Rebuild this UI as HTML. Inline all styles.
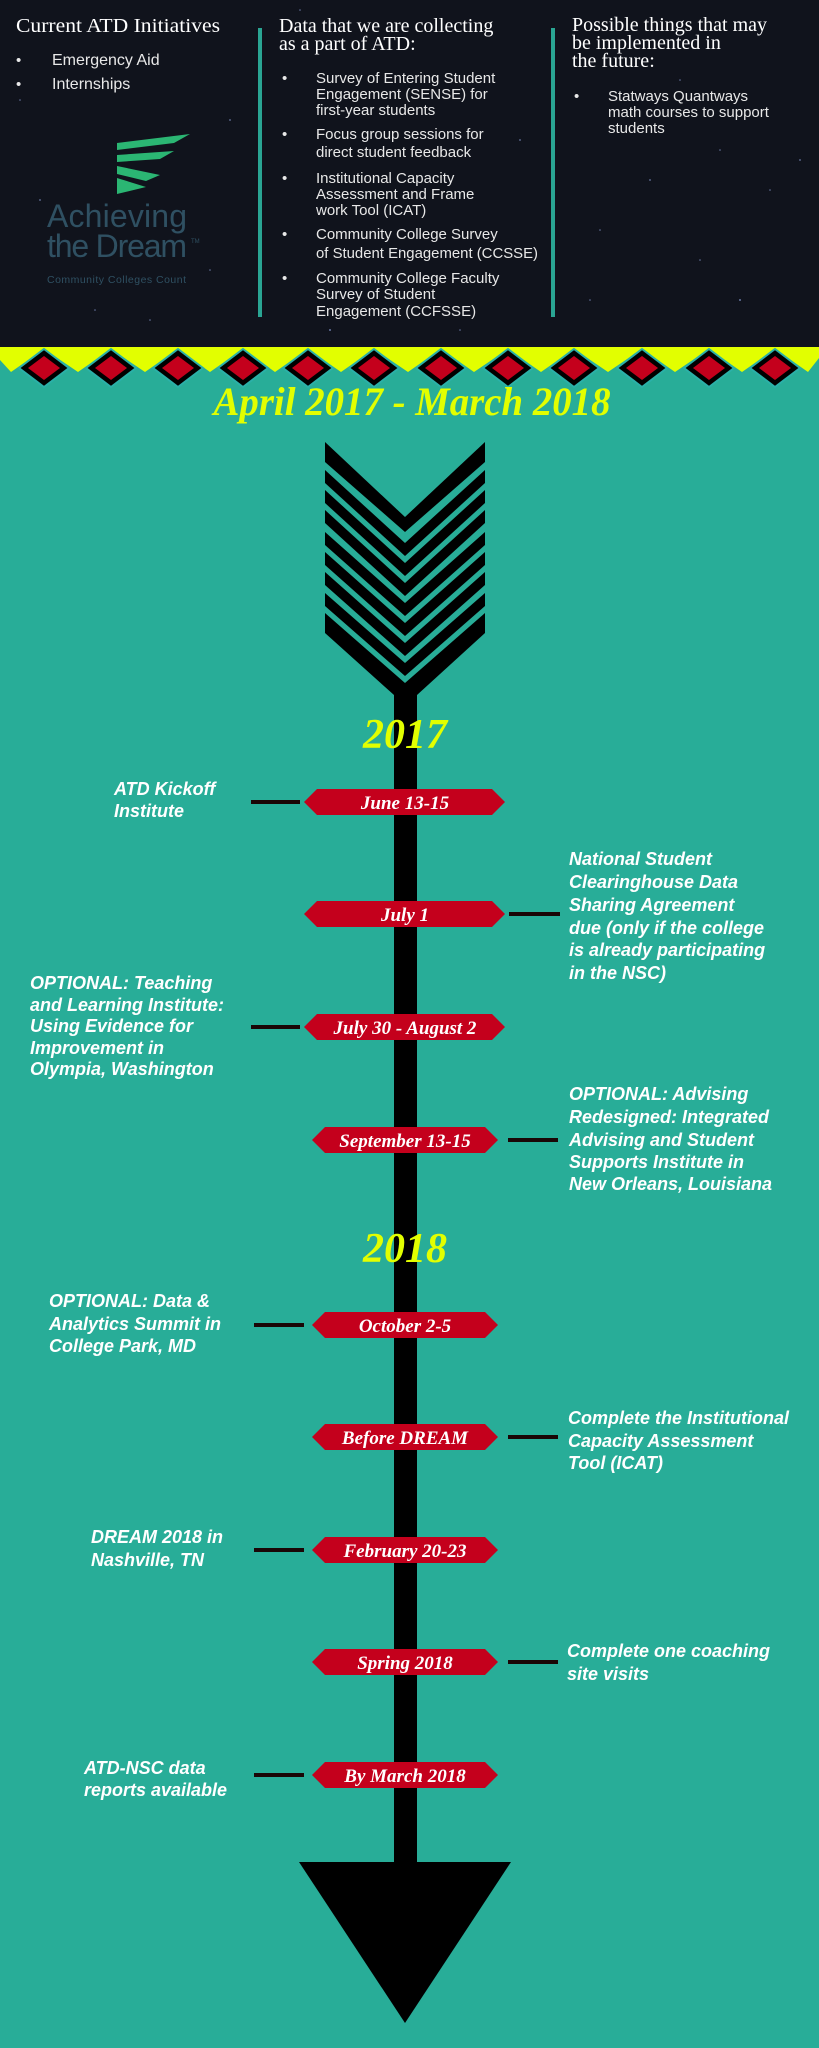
<!DOCTYPE html>
<html><head><meta charset="utf-8"><style>
html,body{margin:0;padding:0;background:#28ad98;}
svg{display:block;}
.hs{font-family:"Liberation Serif",serif;fill:#fff;font-size:20px;}
.hb{font-family:"Liberation Sans",sans-serif;fill:#e8e8e8;font-size:15px;}
.lb{font-family:"Liberation Sans",sans-serif;font-style:italic;font-weight:bold;fill:#fff;font-size:18px;}
.bd{font-family:"Liberation Serif",serif;font-style:italic;font-weight:bold;fill:#fff;font-size:19px;}
.yr{font-family:"Liberation Serif",serif;font-style:italic;font-weight:bold;fill:#e2ff00;}
</style></head><body>
<svg width="819" height="2048" viewBox="0 0 819 2048" xmlns="http://www.w3.org/2000/svg">
<rect x="0" y="0" width="819" height="2048" fill="#28ad98"/>
<rect x="0" y="0" width="819" height="348" fill="#10131c"/>
<g fill="#8ea0d8" opacity="0.7">
<circle cx="40" cy="200" r="0.9"/><circle cx="95" cy="310" r="0.8"/><circle cx="230" cy="120" r="0.9"/><circle cx="210" cy="270" r="0.8"/>
<circle cx="300" cy="10" r="0.8"/><circle cx="330" cy="330" r="1"/><circle cx="460" cy="330" r="0.8"/><circle cx="520" cy="140" r="0.9"/>
<circle cx="600" cy="230" r="0.8"/><circle cx="650" cy="180" r="0.9"/><circle cx="700" cy="260" r="0.8"/><circle cx="740" cy="300" r="1"/>
<circle cx="770" cy="190" r="0.8"/><circle cx="800" cy="160" r="0.9"/><circle cx="680" cy="80" r="0.8"/><circle cx="590" cy="300" r="0.8"/>
<circle cx="150" cy="320" r="0.8"/><circle cx="20" cy="100" r="0.8"/><circle cx="400" cy="250" r="0.9"/><circle cx="720" cy="150" r="0.8"/>
</g>
<text class="hs" x="16" y="32" textLength="204" lengthAdjust="spacingAndGlyphs">Current ATD Initiatives</text>
<text class="hb" x="16" y="65" font-size="16">•</text><text class="hb" x="52" y="65" style="font-size:16px">Emergency Aid</text>
<text class="hb" x="16" y="89" font-size="16">•</text><text class="hb" x="52" y="89" style="font-size:16px">Internships</text>
<g fill="#2bb673">
<path d="M117 143 L190 134 L174 143 L117 150 Z"/>
<path d="M117 155 L174 151 L160 159 L117 162 Z"/>
<path d="M117 166 L160 175 L146 181 L117 174 Z"/>
<path d="M117 178 L146 187 L117 194 Z"/>
</g>
<text x="47" y="227" font-family="Liberation Sans,sans-serif" font-size="32" fill="#2f5062" textLength="140">Achieving</text>
<text x="47" y="257" font-family="Liberation Sans,sans-serif" font-size="32" fill="#2f5062" textLength="140">the Dream</text>
<text x="191" y="243" font-family="Liberation Sans,sans-serif" font-size="6" fill="#2f5062">TM</text>
<text x="47" y="283" font-family="Liberation Sans,sans-serif" font-size="10.5" fill="#2f5062" textLength="139">Community Colleges Count</text>
<rect x="258" y="28" width="4" height="289" fill="#2aa593"/>
<rect x="551" y="28" width="4" height="289" fill="#2aa593"/>
<text class="hs" x="279" y="32">Data that we are collecting</text>
<text class="hs" x="279" y="50">as a part of ATD:</text>
<g class="hb">
<text x="282" y="83">•</text><text x="316" y="83">Survey of Entering Student</text><text x="316" y="99">Engagement (SENSE) for</text><text x="316" y="115">first-year students</text>
<text x="282" y="139">•</text><text x="316" y="139">Focus group sessions for</text><text x="316" y="157">direct student feedback</text>
<text x="282" y="183">•</text><text x="316" y="183">Institutional Capacity</text><text x="316" y="199">Assessment and Frame</text><text x="316" y="215">work Tool (ICAT)</text>
<text x="282" y="239">•</text><text x="316" y="239">Community College Survey</text><text x="316" y="258" textLength="222" lengthAdjust="spacingAndGlyphs">of Student Engagement (CCSSE)</text>
<text x="282" y="283">•</text><text x="316" y="283">Community College Faculty</text><text x="316" y="299">Survey of Student</text><text x="316" y="316">Engagement (CCFSSE)</text>
</g>
<text class="hs" x="572" y="31">Possible things that may</text>
<text class="hs" x="572" y="49">be implemented in</text>
<text class="hs" x="572" y="67">the future:</text>
<g class="hb"><text x="574" y="101">•</text><text x="608" y="101">Statways Quantways</text><text x="608" y="117">math courses to support</text><text x="608" y="133">students</text></g>
<path d="M0 347 L819 347 L819 358 L808 372 L775 349 L742 372 L709 349 L675 372 L642 349 L608 372 L574 349 L541 372 L508 349 L474 372 L441 349 L408 372 L374 349 L341 372 L308 349 L275 372 L243 349 L210 372 L178 349 L145 372 L111 349 L78 372 L44 349 L11 372 L0 360 Z" fill="#e2ff00"/>
<g stroke="#2bb0a8" stroke-width="2">
<path d="M44 349 l25 19 l-25 19 l-25 -19 Z" fill="#000"/><path d="M111 349 l25 19 l-25 19 l-25 -19 Z" fill="#000"/>
<path d="M178 349 l25 19 l-25 19 l-25 -19 Z" fill="#000"/><path d="M243 349 l25 19 l-25 19 l-25 -19 Z" fill="#000"/>
<path d="M308 349 l25 19 l-25 19 l-25 -19 Z" fill="#000"/><path d="M374 349 l25 19 l-25 19 l-25 -19 Z" fill="#000"/>
<path d="M441 349 l25 19 l-25 19 l-25 -19 Z" fill="#000"/><path d="M508 349 l25 19 l-25 19 l-25 -19 Z" fill="#000"/>
<path d="M574 349 l25 19 l-25 19 l-25 -19 Z" fill="#000"/><path d="M642 349 l25 19 l-25 19 l-25 -19 Z" fill="#000"/>
<path d="M709 349 l25 19 l-25 19 l-25 -19 Z" fill="#000"/><path d="M775 349 l25 19 l-25 19 l-25 -19 Z" fill="#000"/>
</g>
<g fill="#c4001c">
<path d="M44 356 l16 12 l-16 12 l-16 -12 Z"/><path d="M111 356 l16 12 l-16 12 l-16 -12 Z"/>
<path d="M178 356 l16 12 l-16 12 l-16 -12 Z"/><path d="M243 356 l16 12 l-16 12 l-16 -12 Z"/>
<path d="M308 356 l16 12 l-16 12 l-16 -12 Z"/><path d="M374 356 l16 12 l-16 12 l-16 -12 Z"/>
<path d="M441 356 l16 12 l-16 12 l-16 -12 Z"/><path d="M508 356 l16 12 l-16 12 l-16 -12 Z"/>
<path d="M574 356 l16 12 l-16 12 l-16 -12 Z"/><path d="M642 356 l16 12 l-16 12 l-16 -12 Z"/>
<path d="M709 356 l16 12 l-16 12 l-16 -12 Z"/><path d="M775 356 l16 12 l-16 12 l-16 -12 Z"/>
</g>
<text class="yr" x="412" y="415" font-size="40" text-anchor="middle" textLength="397" lengthAdjust="spacingAndGlyphs">April 2017 - March 2018</text>
<g fill="#000">
<path d="M325 442 L405 517 L485 442 L485 462 L405 532 L325 462 Z"/>
<path d="M325 470 L405 543 L485 470 L485 483 L405 556 L325 483 Z"/>
<path d="M325 490 L405 563 L485 490 L485 503 L405 576 L325 503 Z"/>
<path d="M325 510 L405 583 L485 510 L485 523 L405 596 L325 523 Z"/>
<path d="M325 532 L405 603 L485 532 L485 545 L405 616 L325 545 Z"/>
<path d="M325 552 L405 623 L485 552 L485 565 L405 636 L325 565 Z"/>
<path d="M325 572 L405 643 L485 572 L485 585 L405 656 L325 585 Z"/>
<path d="M325 593 L405 663 L485 593 L485 606 L405 676 L325 606 Z"/>
<path d="M325 613 L405 683 L485 613 L485 633 L417 695 L394 695 L325 633 Z"/>
<rect x="394" y="690" width="23" height="1180"/>
<path d="M299 1862 L511 1862 L405 2023 Z"/>
</g>
<text class="yr" x="405" y="748" font-size="42" text-anchor="middle">2017</text>
<text class="yr" x="405" y="1262" font-size="42" text-anchor="middle">2018</text>
<g fill="#1a0606">
<rect x="251" y="800" width="49" height="4"/>
<rect x="509" y="912" width="51" height="4"/>
<rect x="251" y="1025" width="49" height="4"/>
<rect x="508" y="1138" width="50" height="4"/>
<rect x="254" y="1323" width="50" height="4"/>
<rect x="508" y="1435" width="50" height="4"/>
<rect x="254" y="1548" width="50" height="4"/>
<rect x="508" y="1660" width="50" height="4"/>
<rect x="254" y="1773" width="50" height="4"/>
</g>
<g fill="#c4001c">
<path d="M304 802 l13 -13 h175 l13 13 l-13 13 h-175 Z"/>
<path d="M304 914 l13 -13 h175 l13 13 l-13 13 h-175 Z"/>
<path d="M304 1027 l13 -13 h175 l13 13 l-13 13 h-175 Z"/>
<path d="M312 1140 l13 -13 h160 l13 13 l-13 13 h-160 Z"/>
<path d="M312 1325 l13 -13 h160 l13 13 l-13 13 h-160 Z"/>
<path d="M312 1437 l13 -13 h160 l13 13 l-13 13 h-160 Z"/>
<path d="M312 1550 l13 -13 h160 l13 13 l-13 13 h-160 Z"/>
<path d="M312 1662 l13 -13 h160 l13 13 l-13 13 h-160 Z"/>
<path d="M312 1775 l13 -13 h160 l13 13 l-13 13 h-160 Z"/>
</g>
<g class="bd" text-anchor="middle">
<text x="405" y="809">June 13-15</text>
<text x="405" y="921">July 1</text>
<text x="405" y="1034">July 30 - August 2</text>
<text x="405" y="1147">September 13-15</text>
<text x="405" y="1332">October 2-5</text>
<text x="405" y="1444">Before DREAM</text>
<text x="405" y="1557">February 20-23</text>
<text x="405" y="1669">Spring 2018</text>
<text x="405" y="1782">By March 2018</text>
</g>
<g class="lb">
<text x="114" y="795">ATD Kickoff</text><text x="114" y="817">Institute</text>
<text x="569" y="865">National Student</text><text x="569" y="888">Clearinghouse Data</text><text x="569" y="911">Sharing Agreement</text><text x="569" y="934">due (only if the college</text><text x="569" y="956">is already participating</text><text x="569" y="979">in the NSC)</text>
<text x="30" y="989">OPTIONAL: Teaching</text><text x="30" y="1011">and Learning Institute:</text><text x="30" y="1032">Using Evidence for</text><text x="30" y="1054">Improvement in</text><text x="30" y="1075">Olympia, Washington</text>
<text x="569" y="1100">OPTIONAL: Advising</text><text x="569" y="1123">Redesigned: Integrated</text><text x="569" y="1146">Advising and Student</text><text x="569" y="1168">Supports Institute in</text><text x="569" y="1190">New Orleans, Louisiana</text>
<text x="49" y="1307">OPTIONAL: Data &amp;</text><text x="49" y="1330">Analytics Summit in</text><text x="49" y="1352">College Park, MD</text>
<text x="568" y="1424">Complete the Institutional</text><text x="568" y="1447">Capacity Assessment</text><text x="568" y="1469">Tool (ICAT)</text>
<text x="91" y="1543">DREAM 2018 in</text><text x="91" y="1566">Nashville, TN</text>
<text x="567" y="1657">Complete one coaching</text><text x="567" y="1680">site visits</text>
<text x="84" y="1774">ATD-NSC data</text><text x="84" y="1796">reports available</text>
</g>
</svg>
</body></html>
